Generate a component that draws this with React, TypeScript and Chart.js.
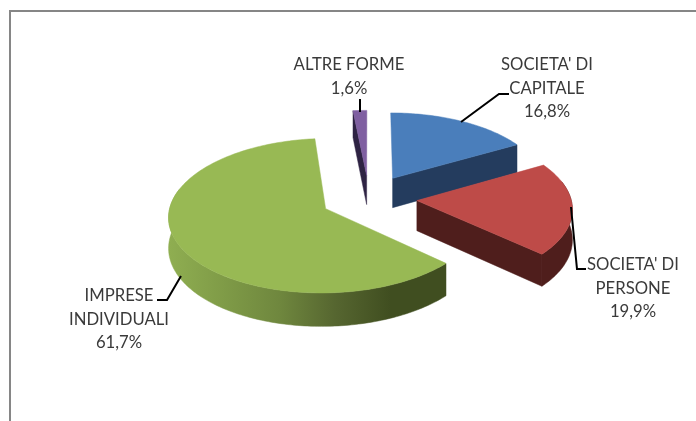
import React, { useEffect, useRef } from "react";
import { Chart, registerables } from "chart.js";

Chart.register(...registerables);

const categories = [
  ["SOCIETA' DI", "CAPITALE"],
  ["SOCIETA' DI", "PERSONE"],
  ["IMPRESE", "INDIVIDUALI"],
  ["ALTRE FORME"],
];
const shares = [16.8, 19.9, 61.7, 1.6];
const topColors = ["#4A7EBB", "#BE4B48", "#98B954", "#7F5FA1"];
const sideColors = ["#243C5E", "#4F1E1C", "#404E20", "#2E2343"];
const rimStops: (string[] | null)[] = [
  null,
  null,
  ["#8FAE51", "#7F9B47", "#6F873E", "#566630", "#404E20", "#404E20"],
  null,
];
const labelCentres = [
  [547, 65],
  [633, 265],
  [119, 296],
  [349, 65],
];
const leaders = [
  [[461, 122], [499, 94], [509, 94]],
  [[571, 207], [577, 269], [586, 269]],
  [[181, 276], [167, 300], [157, 300]],
  [[360, 99], [360, 112]],
];

const CX = 369;
const CY = 198;
const R = 154;
const EXPLODE = 48;
const SQUASH = 0.485;
const PERSP = 0.09;
const DEPTH = 30;
const RIM_MARGIN = 0.26;

type P = [number, number];

function project(X: number, Y: number, drop = 0): P {
  const p = 1 / (1 + PERSP * Y);
  return [CX + X * R * p, CY - Y * R * SQUASH * p + drop * DEPTH * p];
}

const pie3d = {
  id: "pie3d",
  beforeDraw(chart: any) {
    const ctx = chart.ctx;
    ctx.save();
    ctx.fillStyle = "#868686";
    ctx.fillRect(9, 10, chart.width - 9, 2);
    ctx.fillRect(9, 10, 2, chart.height - 10);
    ctx.restore();
  },
  beforeDatasetsDraw(chart: any) {
    const ctx = chart.ctx;
    const arcs = chart.getDatasetMeta(0).data;
    const slices = arcs.map((arc: any, i: number) => {
      // clockwise angle from 12 o'clock, taken from the library's own arc
      const a0 = arc.startAngle + Math.PI / 2;
      const a1 = arc.endAngle + Math.PI / 2;
      const mid = (a0 + a1) / 2;
      const off = arc.options.offset / R;
      return {
        i,
        a0,
        a1,
        ox: Math.sin(mid) * off,
        oy: Math.cos(mid) * off,
        depthKey: Math.cos(mid),
      };
    });
    slices.sort((s: any, t: any) => t.depthKey - s.depthKey);

    const fillPoly = (pts: P[], fill: any) => {
      ctx.beginPath();
      pts.forEach((q, n) => (n ? ctx.lineTo(q[0], q[1]) : ctx.moveTo(q[0], q[1])));
      ctx.closePath();
      ctx.fillStyle = fill;
      ctx.fill();
      ctx.strokeStyle = fill;
      ctx.lineWidth = 0.5;
      ctx.stroke();
    };
    const rimPoints = (s: any, from: number, to: number, drop: number) => {
      const pts: P[] = [];
      const n = Math.max(2, Math.ceil((to - from) / 0.02));
      for (let k = 0; k <= n; k++) {
        const a = from + ((to - from) * k) / n;
        pts.push(project(s.ox + Math.sin(a), s.oy + Math.cos(a), drop));
      }
      return pts;
    };

    for (const s of slices) {
      const apex = project(s.ox, s.oy);
      const apexLow = project(s.ox, s.oy, 1);
      // cut faces turned towards the viewer
      for (const [edge, normal] of [
        [s.a0, s.a0 - Math.PI / 2],
        [s.a1, s.a1 + Math.PI / 2],
      ]) {
        if (Math.cos(normal) < -0.01) {
          const top = project(s.ox + Math.sin(edge), s.oy + Math.cos(edge));
          const low = project(s.ox + Math.sin(edge), s.oy + Math.cos(edge), 1);
          fillPoly([apex, top, low, apexLow], sideColors[s.i]);
        }
      }
      // outer rim, front half (the top face is painted over the overlap)
      const from = Math.max(s.a0, Math.PI / 2 - RIM_MARGIN);
      const to = Math.min(s.a1, (3 * Math.PI) / 2 + RIM_MARGIN);
      if (to > from) {
        const upper = rimPoints(s, from, to, 0);
        const lower = rimPoints(s, from, to, 1);
        const xs = upper.map((q) => q[0]);
        const minX = Math.min(...xs);
        const maxX = Math.max(...xs);
        const g = ctx.createLinearGradient(minX, 0, maxX, 0);
        const stops = rimStops[s.i] ?? [sideColors[s.i], sideColors[s.i]];
        stops.forEach((c, n) => g.addColorStop(n / (stops.length - 1), c));
        fillPoly([...upper, ...lower.reverse()], g);
      }
      // top face
      fillPoly([apex, ...rimPoints(s, s.a0, s.a1, 0)], topColors[s.i]);
    }
    return false;
  },
  afterDraw(chart: any) {
    const ctx = chart.ctx;
    ctx.save();
    ctx.strokeStyle = "#000000";
    ctx.lineWidth = 2;
    for (const line of leaders) {
      ctx.beginPath();
      line.forEach((q, n) => (n ? ctx.lineTo(q[0], q[1]) : ctx.moveTo(q[0], q[1])));
      ctx.stroke();
    }
    ctx.fillStyle = "#3A3A3A";
    ctx.font = "16.7px Lato";
    ctx.textAlign = "center";
    ctx.textBaseline = "middle";
    categories.forEach((lines, i) => {
      const text = [...lines, shares[i].toFixed(1).replace(".", ",") + "%"];
      text.forEach((t, n) => {
        ctx.fillText(t, labelCentres[i][0], labelCentres[i][1] + n * 23.5);
      });
    });
    ctx.restore();
  },
};

export default function App() {
  const ref = useRef<HTMLCanvasElement>(null);
  useEffect(() => {
    const chart = new Chart(ref.current!, {
      type: "pie",
      data: {
        labels: categories.map((c) => c.join(" ")),
        datasets: [{ data: shares, backgroundColor: topColors, offset: EXPLODE, borderWidth: 0 }],
      },
      options: {
        animation: false,
        responsive: false,
        plugins: { legend: { display: false }, tooltip: { enabled: false } },
      },
      plugins: [pie3d],
    } as any);
    return () => chart.destroy();
  }, []);
  return (
    <canvas
      ref={ref}
      width={696}
      height={421}
      style={{ position: "absolute", left: 0, top: 0, width: 696, height: 421, background: "#fff" }}
    />
  );
}
